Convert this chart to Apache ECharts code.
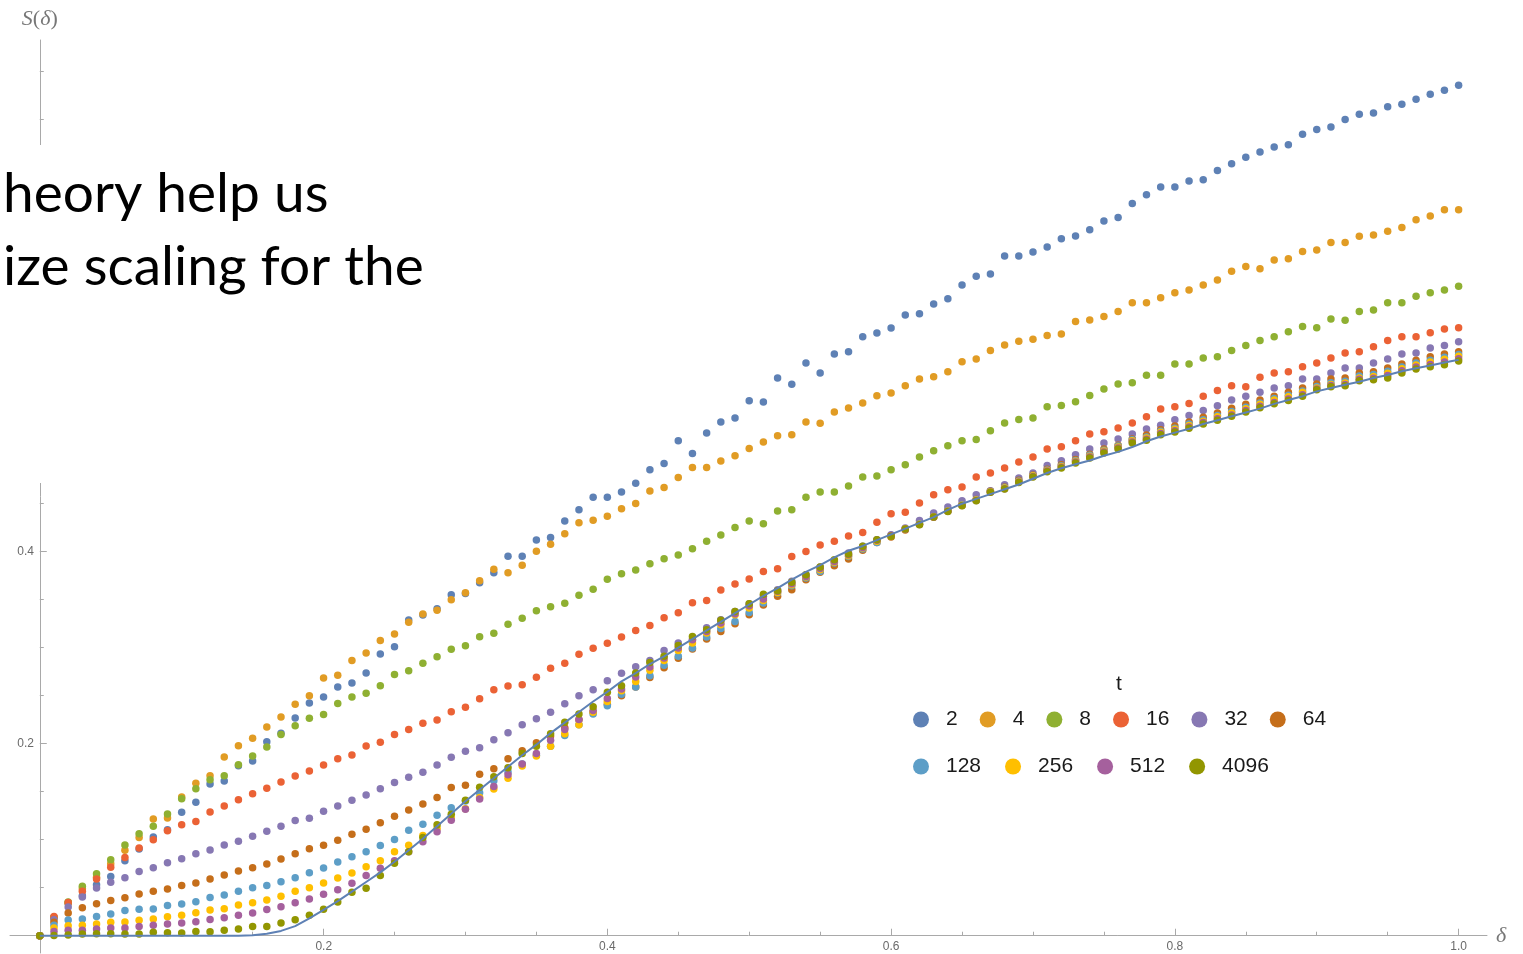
<!DOCTYPE html>
<html>
<head>
<meta charset="utf-8">
<script src="https://cdn.jsdelivr.net/npm/echarts@6/dist/echarts.min.js"></script>
<style>
  html, body { margin: 0; padding: 0; background: #fff; }
  #chart { width: 1523px; height: 954px; }
</style>
</head>
<body>
<div id="chart"></div>
<script>
// δ sample positions
const delta = [
  0, 0.01, 0.02, 0.03, 0.04, 0.05, 0.06, 0.07, 0.08, 0.09,
  0.10, 0.11, 0.12, 0.13, 0.14, 0.15, 0.16, 0.17, 0.18, 0.19,
  0.20, 0.21, 0.22, 0.23, 0.24, 0.25, 0.26, 0.27, 0.28, 0.29,
  0.30, 0.31, 0.32, 0.33, 0.34, 0.35, 0.36, 0.37, 0.38, 0.39,
  0.40, 0.41, 0.42, 0.43, 0.44, 0.45, 0.46, 0.47, 0.48, 0.49,
  0.50, 0.51, 0.52, 0.53, 0.54, 0.55, 0.56, 0.57, 0.58, 0.59,
  0.60, 0.61, 0.62, 0.63, 0.64, 0.65, 0.66, 0.67, 0.68, 0.69,
  0.70, 0.71, 0.72, 0.73, 0.74, 0.75, 0.76, 0.77, 0.78, 0.79,
  0.80, 0.81, 0.82, 0.83, 0.84, 0.85, 0.86, 0.87, 0.88, 0.89,
  0.90, 0.91, 0.92, 0.93, 0.94, 0.95, 0.96, 0.97, 0.98, 0.99,
  1.00
];

// S(δ) measured for each t
const s_t2 = [
  0, 0.019, 0.034, 0.0417, 0.053, 0.0618, 0.078, 0.0903, 0.1028, 0.1104,
  0.1285, 0.1389, 0.158, 0.1611, 0.177, 0.1819, 0.2021, 0.211, 0.2267, 0.2424,
  0.2486, 0.259, 0.2632, 0.2736, 0.2934, 0.301, 0.3288, 0.334, 0.3406, 0.3552,
  0.3564, 0.3676, 0.378, 0.3952, 0.3952, 0.4123, 0.4149, 0.432, 0.4436, 0.4566,
  0.4566, 0.4622, 0.4712, 0.4854, 0.492, 0.5156, 0.5024, 0.5236, 0.5351, 0.5392,
  0.5573, 0.5559, 0.5809, 0.5743, 0.5965, 0.5861, 0.6059, 0.6083, 0.624, 0.6278,
  0.633, 0.6465, 0.6479, 0.658, 0.6635, 0.6778, 0.6868, 0.6892, 0.708, 0.708,
  0.7121, 0.7173, 0.726, 0.7288, 0.7354, 0.7444, 0.7482, 0.7628, 0.7719, 0.7798,
  0.7798, 0.7861, 0.7875, 0.797, 0.804, 0.811, 0.8163, 0.8215, 0.824, 0.8347,
  0.8399, 0.8424, 0.8503, 0.8556, 0.8569, 0.8635, 0.866, 0.8712, 0.8764, 0.8806,
  0.8858
];
const s_t4 = [
  0, 0.019, 0.034, 0.049, 0.061, 0.075, 0.0889, 0.1024, 0.1215, 0.1226,
  0.1444, 0.1587, 0.1667, 0.1861, 0.1979, 0.2056, 0.2174, 0.2278, 0.241, 0.25,
  0.2684, 0.2712, 0.2868, 0.2944, 0.3076, 0.3142, 0.3264, 0.3351, 0.3389, 0.35,
  0.3572, 0.3698, 0.3818, 0.378, 0.3858, 0.4004, 0.4078, 0.4186, 0.4302, 0.4328,
  0.4369, 0.4448, 0.4503, 0.4632, 0.467, 0.4774, 0.4878, 0.4878, 0.4944, 0.5,
  0.5076, 0.5142, 0.5208, 0.5219, 0.5351, 0.5337, 0.5455, 0.5497, 0.5549, 0.5625,
  0.5653, 0.5729, 0.5799, 0.5823, 0.5875, 0.5979, 0.6007, 0.6097, 0.6153, 0.6191,
  0.6212, 0.6253, 0.6267, 0.6399, 0.6413, 0.6451, 0.6503, 0.6594, 0.6594, 0.6646,
  0.6698, 0.6726, 0.6778, 0.683, 0.692, 0.6972, 0.6948, 0.7038, 0.7052, 0.7128,
  0.7142, 0.7222, 0.7222, 0.7285, 0.7299, 0.7337, 0.7378, 0.7458, 0.7496, 0.7562,
  0.7562
];
const s_t8 = [
  0, 0.019, 0.035, 0.0514, 0.0646, 0.0792, 0.0944, 0.1063, 0.1139, 0.1267,
  0.1427, 0.1531, 0.1625, 0.1667, 0.1781, 0.1872, 0.1965, 0.2097, 0.2188, 0.2264,
  0.2304, 0.242, 0.2487, 0.2525, 0.2604, 0.272, 0.276, 0.2839, 0.2905, 0.2983,
  0.302, 0.3114, 0.3151, 0.3244, 0.3307, 0.3385, 0.3426, 0.3464, 0.3546, 0.3609,
  0.3714, 0.3771, 0.3809, 0.3875, 0.3927, 0.3965, 0.4031, 0.4108, 0.4174, 0.4253,
  0.4319, 0.4292, 0.4424, 0.4437, 0.4566, 0.4622, 0.4622, 0.4684, 0.4778, 0.4788,
  0.4854, 0.4906, 0.4986, 0.5052, 0.5104, 0.5156, 0.517, 0.526, 0.534, 0.5378,
  0.5392, 0.551, 0.5524, 0.5562, 0.5628, 0.5694, 0.5746, 0.576, 0.5837, 0.5837,
  0.5955, 0.5955, 0.6017, 0.6031, 0.6097, 0.6149, 0.6201, 0.624, 0.6292, 0.6347,
  0.6333, 0.6424, 0.641, 0.6503, 0.6517, 0.6594, 0.6594, 0.666, 0.6698, 0.6726,
  0.6764
];
const s_t16 = [
  0, 0.0201, 0.0347, 0.0462, 0.059, 0.0712, 0.0816, 0.0913, 0.1, 0.1094,
  0.1156, 0.1191, 0.1288, 0.1351, 0.1417, 0.1479, 0.1535, 0.1601, 0.1663, 0.1715,
  0.1779, 0.1844, 0.1883, 0.1977, 0.2014, 0.2095, 0.2147, 0.2212, 0.2248, 0.2333,
  0.238, 0.2469, 0.2562, 0.26, 0.2615, 0.2693, 0.2786, 0.2838, 0.2931, 0.2994,
  0.3047, 0.3112, 0.318, 0.3232, 0.3312, 0.3364, 0.3469, 0.3493, 0.3601, 0.3663,
  0.3715, 0.3795, 0.3823, 0.3951, 0.4003, 0.4069, 0.4108, 0.4163, 0.4201, 0.4306,
  0.4396, 0.441, 0.4507, 0.4594, 0.4646, 0.4674, 0.4778, 0.4819, 0.4871, 0.4934,
  0.4986, 0.5069, 0.5094, 0.5156, 0.5226, 0.525, 0.5288, 0.534, 0.5406, 0.5486,
  0.551, 0.5545, 0.562, 0.568, 0.5729, 0.5719, 0.5816, 0.5861, 0.5875, 0.5927,
  0.5965, 0.6017, 0.6069, 0.6083, 0.6135, 0.6201, 0.624, 0.624, 0.6281, 0.6319,
  0.6333
];
const s_t32 = [
  0, 0.0167, 0.0299, 0.0403, 0.0497, 0.0556, 0.0604, 0.067, 0.0708, 0.076,
  0.0802, 0.0854, 0.0892, 0.0944, 0.0983, 0.1035, 0.1087, 0.1139, 0.12, 0.1224,
  0.1296, 0.135, 0.1412, 0.1465, 0.1531, 0.1597, 0.1651, 0.1703, 0.1779, 0.1858,
  0.1922, 0.1959, 0.2041, 0.2115, 0.2197, 0.2261, 0.2328, 0.2417, 0.2499, 0.2562,
  0.2655, 0.2733, 0.2802, 0.2868, 0.2972, 0.3049, 0.3083, 0.3208, 0.3292, 0.3378,
  0.3458, 0.3535, 0.3604, 0.3691, 0.376, 0.384, 0.3906, 0.3986, 0.4056, 0.4125,
  0.4177, 0.4246, 0.4326, 0.4403, 0.4465, 0.4531, 0.4594, 0.4635, 0.4698, 0.4767,
  0.4819, 0.4899, 0.4948, 0.501, 0.5069, 0.5132, 0.5173, 0.5226, 0.5278, 0.5316,
  0.5375, 0.542, 0.547, 0.552, 0.558, 0.562, 0.566, 0.5705, 0.5729, 0.5799,
  0.5799, 0.5861, 0.5913, 0.5913, 0.5965, 0.6007, 0.6059, 0.6069, 0.6122, 0.6149,
  0.6188
];
const s_t64 = [
  0, 0.0139, 0.0236, 0.0292, 0.0333, 0.0368, 0.0396, 0.0434, 0.0462, 0.0486,
  0.0524, 0.0549, 0.059, 0.0632, 0.0674, 0.0708, 0.0747, 0.0799, 0.0854, 0.0906,
  0.0942, 0.0994, 0.1058, 0.111, 0.1177, 0.1245, 0.131, 0.1373, 0.1441, 0.1545,
  0.1568, 0.1683, 0.1739, 0.1844, 0.1926, 0.2011, 0.208, 0.2165, 0.225, 0.233,
  0.241, 0.25, 0.259, 0.269, 0.279, 0.2889, 0.2986, 0.309, 0.317, 0.325,
  0.3344, 0.3444, 0.3535, 0.3604, 0.3708, 0.3785, 0.3854, 0.3924, 0.4014, 0.4097,
  0.4153, 0.4225, 0.4285, 0.436, 0.4425, 0.449, 0.4545, 0.463, 0.4675, 0.4745,
  0.48, 0.486, 0.4905, 0.496, 0.5015, 0.507, 0.511, 0.5175, 0.5215, 0.527,
  0.531, 0.535, 0.54, 0.5445, 0.5495, 0.5535, 0.558, 0.562, 0.566, 0.5705,
  0.5746, 0.5799, 0.5809, 0.5861, 0.5875, 0.5913, 0.5955, 0.5993, 0.6031, 0.6059,
  0.6083
];
const s_t128 = [
  0, 0.0108, 0.0165, 0.0174, 0.0201, 0.0226, 0.0262, 0.0275, 0.0278, 0.0316,
  0.033, 0.0354, 0.0399, 0.0424, 0.0462, 0.05, 0.0524, 0.0563, 0.0604, 0.0656,
  0.0706, 0.0767, 0.0823, 0.0875, 0.0939, 0.1002, 0.1099, 0.1162, 0.1255, 0.1333,
  0.1404, 0.149, 0.1613, 0.1706, 0.1788, 0.1881, 0.1974, 0.2086, 0.2197, 0.2309,
  0.2396, 0.2514, 0.259, 0.2708, 0.2816, 0.291, 0.2997, 0.3111, 0.3201, 0.3274,
  0.3368, 0.3465, 0.3569, 0.3646, 0.3726, 0.3795, 0.3882, 0.3951, 0.4028, 0.4097,
  0.4167, 0.424, 0.429, 0.4366, 0.4428, 0.4488, 0.4542, 0.4628, 0.4668, 0.4737,
  0.4795, 0.4852, 0.4895, 0.495, 0.5004, 0.5058, 0.51, 0.5165, 0.5195, 0.5255,
  0.5285, 0.533, 0.5375, 0.542, 0.546, 0.5505, 0.555, 0.5595, 0.563, 0.5675,
  0.572, 0.576, 0.5775, 0.583, 0.5845, 0.588, 0.5925, 0.5965, 0.5995, 0.6025,
  0.6055
];
const s_t256 = [
  0, 0.008, 0.0104, 0.0108, 0.0122, 0.0139, 0.0142, 0.016, 0.0174, 0.0198,
  0.0212, 0.024, 0.0267, 0.0281, 0.0319, 0.0344, 0.0372, 0.041, 0.0462, 0.05,
  0.055, 0.06, 0.0652, 0.0719, 0.0782, 0.0875, 0.0942, 0.1043, 0.1117, 0.1229,
  0.1322, 0.144, 0.1527, 0.1639, 0.1769, 0.1873, 0.1974, 0.2104, 0.2197, 0.2328,
  0.244, 0.2552, 0.2649, 0.2764, 0.2868, 0.2972, 0.3049, 0.3153, 0.324, 0.3344,
  0.3413, 0.3493, 0.3576, 0.3656, 0.3736, 0.3812, 0.3889, 0.3958, 0.4038, 0.4108,
  0.4167, 0.4238, 0.4287, 0.4364, 0.4425, 0.4485, 0.4538, 0.4624, 0.4663, 0.4732,
  0.479, 0.4846, 0.4887, 0.4942, 0.4995, 0.5048, 0.509, 0.5155, 0.5185, 0.5245,
  0.5275, 0.5315, 0.536, 0.5405, 0.5445, 0.549, 0.5535, 0.558, 0.5615, 0.566,
  0.5705, 0.5742, 0.5757, 0.581, 0.5825, 0.586, 0.5905, 0.5945, 0.5975, 0.6005,
  0.6035
];
const s_t512 = [
  0, 0.0045, 0.0056, 0.0056, 0.007, 0.008, 0.008, 0.0097, 0.0108, 0.0122,
  0.0132, 0.0146, 0.017, 0.0188, 0.0212, 0.0236, 0.0274, 0.0302, 0.0344, 0.0382,
  0.0431, 0.048, 0.0547, 0.0626, 0.0704, 0.0782, 0.0875, 0.098, 0.1084, 0.1203,
  0.1318, 0.1423, 0.1553, 0.1676, 0.1788, 0.1899, 0.2037, 0.2149, 0.2253, 0.2346,
  0.247, 0.2569, 0.2694, 0.2799, 0.2892, 0.2997, 0.3083, 0.317, 0.3257, 0.3354,
  0.3438, 0.3507, 0.3587, 0.3667, 0.3743, 0.3826, 0.3899, 0.3969, 0.4045, 0.4118,
  0.417, 0.4237, 0.4284, 0.4362, 0.4422, 0.4482, 0.4534, 0.462, 0.4657, 0.4726,
  0.4784, 0.484, 0.488, 0.4934, 0.4986, 0.5038, 0.508, 0.5143, 0.5172, 0.5232,
  0.526, 0.53, 0.5345, 0.5385, 0.5425, 0.547, 0.5515, 0.5555, 0.559, 0.5635,
  0.5695, 0.573, 0.5742, 0.5795, 0.5808, 0.5835, 0.5885, 0.5925, 0.595, 0.5975,
  0.601
];
const s_t4096 = [
  0, 0.0003, 0.0007, 0.0017, 0.0021, 0.0021, 0.0017, 0.0017, 0.0035, 0.0031,
  0.0028, 0.0045, 0.0042, 0.0056, 0.0069, 0.0097, 0.0097, 0.0132, 0.0167, 0.0212,
  0.0275, 0.035, 0.0454, 0.0495, 0.0626, 0.0756, 0.0875, 0.1024, 0.1155, 0.1266,
  0.1412, 0.1546, 0.1657, 0.175, 0.1899, 0.1974, 0.2104, 0.2223, 0.2309, 0.2384,
  0.2535, 0.2604, 0.2736, 0.2847, 0.291, 0.3024, 0.3118, 0.3188, 0.3285, 0.3378,
  0.3458, 0.3556, 0.3594, 0.3681, 0.376, 0.384, 0.3917, 0.3976, 0.4056, 0.4125,
  0.416, 0.4236, 0.4281, 0.4361, 0.442, 0.4479, 0.4531, 0.4618, 0.4653, 0.4722,
  0.4778, 0.4833, 0.4871, 0.4924, 0.4976, 0.5028, 0.5069, 0.5132, 0.516, 0.5219,
  0.5246, 0.5285, 0.533, 0.537, 0.541, 0.5455, 0.55, 0.554, 0.5575, 0.562,
  0.5687, 0.5719, 0.5729, 0.5781, 0.5792, 0.5809, 0.5861, 0.5903, 0.5927, 0.5948,
  0.5986
];

// limiting curve S(δ)
const s_limit = [
  0, 0, 0, 0, 0, 0, 0, 0, 0, 0,
  0, 0, 0, 0, 0, 0.0005, 0.002, 0.005, 0.01, 0.018,
  0.027, 0.036, 0.046, 0.056, 0.066, 0.077, 0.089, 0.101, 0.114, 0.127,
  0.14, 0.152, 0.164, 0.176, 0.188, 0.199, 0.211, 0.222, 0.233, 0.244,
  0.254, 0.265, 0.2735, 0.283, 0.291, 0.3, 0.309, 0.318, 0.327, 0.336,
  0.345, 0.354, 0.362, 0.371, 0.379, 0.386, 0.394, 0.401, 0.406, 0.412,
  0.418, 0.424, 0.43, 0.436, 0.4435, 0.45, 0.455, 0.46, 0.465, 0.47,
  0.476, 0.482, 0.487, 0.491, 0.495, 0.5, 0.504, 0.509, 0.515, 0.52,
  0.524, 0.528, 0.533, 0.537, 0.541, 0.545, 0.549, 0.554, 0.558, 0.562,
  0.567, 0.5705, 0.574, 0.577, 0.581, 0.584, 0.588, 0.591, 0.594, 0.597,
  0.6
];

const tLabels = ['2', '4', '8', '16', '32', '64', '128', '256', '512', '4096'];
const tSeries = [s_t2, s_t4, s_t8, s_t16, s_t32, s_t64, s_t128, s_t256, s_t512, s_t4096];

const xMajor = [0.2, 0.4, 0.6, 0.8, 1.0];
const xMinor = [0.05, 0.1, 0.15, 0.25, 0.3, 0.35, 0.45, 0.5, 0.55, 0.65, 0.7, 0.75, 0.85, 0.9, 0.95];
const yMajor = [0.2, 0.4, 0.6, 0.8];
const yMinor = [0.05, 0.1, 0.15, 0.25, 0.3, 0.35, 0.45, 0.5, 0.55, 0.65, 0.7, 0.75, 0.85, 0.9];

const palette = ['#5E81B5', '#E19C24', '#8FB032', '#EB6235', '#8778B3',
                 '#C56E1A', '#5D9EC7', '#FFBF00', '#A5609D', '#929600'];

const axisGray = '#a9a9a9';
const labelGray = '#6a6a6a';
// plot range with a little padding around the data, axes crossing at the origin
const X_MIN = -0.021, X_MAX = 1.02, Y_MIN = -0.018, Y_MAX = 0.933;

const chart = echarts.init(document.getElementById('chart'), null, { renderer: 'canvas' });

const pointSeries = tSeries.map((vals, k) => ({
  name: tLabels[k],
  type: 'scatter',
  xAxisIndex: 0,
  yAxisIndex: 0,
  symbol: 'circle',
  symbolSize: 7.5,
  itemStyle: { color: palette[k], opacity: 1 },
  emphasis: { disabled: true },
  data: delta.map((d, i) => [d, vals[i]])
}));

const limitSeries = {
  name: 'limit',
  type: 'line',
  xAxisIndex: 0,
  yAxisIndex: 0,
  showSymbol: false,
  symbol: 'none',
  lineStyle: { color: '#5E81B5', width: 2 },
  emphasis: { disabled: true },
  data: delta.map((d, i) => [d, s_limit[i]]),
  z: 5
};

const legendCommon = {
  left: 908,
  padding: 5,
  orient: 'horizontal',
  icon: 'circle',
  itemWidth: 40,
  itemHeight: 16,
  selectedMode: false,
  textStyle: { fontFamily: 'Liberation Sans', fontSize: 21, color: '#1a1a1a' }
};

const labelStyle = { color: labelGray, fontSize: 12, fontFamily: 'Liberation Sans', formatter: v => v.toFixed(1) };

const option = {
  animation: false,
  backgroundColor: '#ffffff',
  grid: [
    // plotting area, padded range
    { left: 10, right: 36, top: 40, bottom: 1, containLabel: false, outerBoundsMode: 'none' },
    // same area starting at the origin: carries the tick labels next to the axis lines
    { left: 40, right: 36, top: 40, bottom: 18, containLabel: false, outerBoundsMode: 'none' }
  ],
  xAxis: [
    {
      type: 'value', gridIndex: 0, min: X_MIN, max: X_MAX, position: 'bottom',
      axisLine: { onZero: true, onZeroAxisIndex: 0, lineStyle: { color: axisGray, width: 1 } },
      axisTick: { inside: true, length: 7, customValues: xMajor, lineStyle: { color: axisGray } },
      axisLabel: { show: false },
      splitLine: { show: false },
      name: 'δ', nameLocation: 'end', nameGap: 9,
      nameTextStyle: { fontFamily: 'Liberation Serif', fontStyle: 'italic', fontSize: 22, color: '#777' }
    },
    {
      type: 'value', gridIndex: 0, min: X_MIN, max: X_MAX, position: 'bottom',
      axisLine: { show: false, onZero: true, onZeroAxisIndex: 0 },
      axisTick: { inside: true, length: 4, customValues: xMinor, lineStyle: { color: axisGray } },
      axisLabel: { show: false },
      splitLine: { show: false }
    },
    {
      type: 'value', gridIndex: 1, min: 0, max: X_MAX, position: 'bottom',
      axisLine: { show: false, onZero: false },
      axisTick: { show: false },
      axisLabel: Object.assign({ customValues: xMajor, margin: 5 }, labelStyle),
      splitLine: { show: false }
    }
  ],
  yAxis: [
    {
      type: 'value', gridIndex: 0, min: Y_MIN, max: Y_MAX, position: 'left',
      axisLine: { onZero: true, onZeroAxisIndex: 0, lineStyle: { color: axisGray, width: 1 } },
      axisTick: { inside: true, length: 7, customValues: yMajor, lineStyle: { color: axisGray } },
      axisLabel: { show: false },
      splitLine: { show: false },
      name: '{i|S}({i|δ})', nameLocation: 'end', nameGap: 10,
      nameTextStyle: {
        fontFamily: 'Liberation Serif', fontSize: 22, color: '#777',
        rich: { i: { fontFamily: 'Liberation Serif', fontStyle: 'italic', fontSize: 22, color: '#777' } }
      }
    },
    {
      type: 'value', gridIndex: 0, min: Y_MIN, max: Y_MAX, position: 'left',
      axisLine: { show: false, onZero: true, onZeroAxisIndex: 0 },
      axisTick: { inside: true, length: 4, customValues: yMinor, lineStyle: { color: axisGray } },
      axisLabel: { show: false },
      splitLine: { show: false }
    },
    {
      type: 'value', gridIndex: 1, min: 0, max: Y_MAX, position: 'left',
      axisLine: { show: false, onZero: false },
      axisTick: { show: false },
      axisLabel: Object.assign({ customValues: yMajor, margin: 6 }, labelStyle),
      splitLine: { show: false }
    }
  ],
  legend: [
    Object.assign({ data: tLabels.slice(0, 6), top: 704, itemGap: 22 }, legendCommon),
    Object.assign({ data: tLabels.slice(6), top: 751, itemGap: 24 }, legendCommon)
  ],
  graphic: [
    {
      type: 'text', left: 1116, top: 674, z: 50,
      style: { text: 't', font: '21px "Liberation Sans"', fill: '#1a1a1a' }
    },
    // white caption panel laid over the upper-left corner
    {
      type: 'rect', z: 100,
      shape: { x: 0, y: 145, width: 440, height: 338 },
      style: { fill: '#ffffff' }
    },
    {
      type: 'text', z: 101, x: 3, y: 194,
      style: { text: 'heory help us', font: '55px Lato', fill: '#000', verticalAlign: 'middle' }
    },
    {
      type: 'text', z: 101, x: 3, y: 267,
      style: { text: 'ize scaling for the', font: '55px Lato', fill: '#000', verticalAlign: 'middle' }
    }
  ],
  series: pointSeries.concat([limitSeries])
};

chart.setOption(option);
</script>
</body>
</html>
